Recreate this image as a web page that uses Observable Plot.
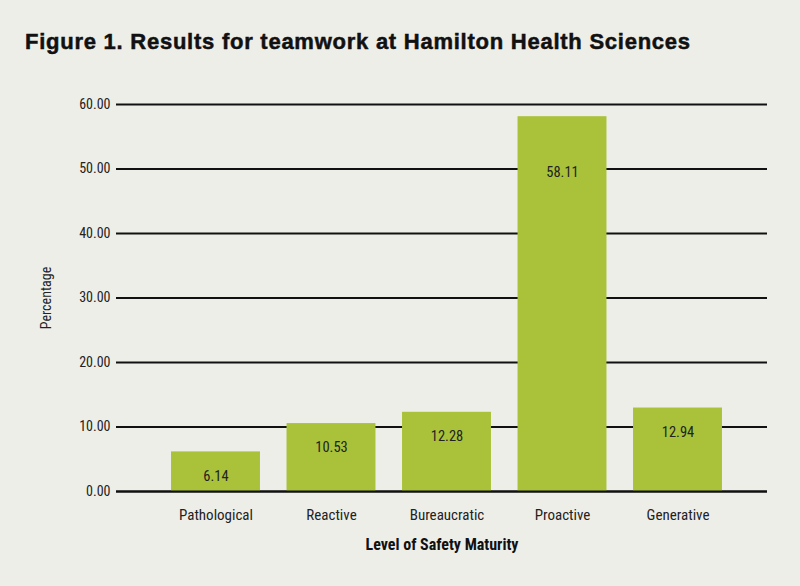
<!DOCTYPE html>
<html>
<head>
<meta charset="utf-8">
<script src="https://cdn.jsdelivr.net/npm/d3@7"></script>
<script src="https://cdn.jsdelivr.net/npm/@observablehq/plot@0.6"></script>
<style>
  html, body { margin: 0; padding: 0; background: #eeeee9; }
  #wrap { width: 800px; height: 586px; background: #eeeee9; position: relative; overflow: hidden; }
  #title { position: absolute; left: 25px; top: 29px; font-family: "Liberation Sans", Arial, sans-serif; font-weight: bold; font-size: 22px; letter-spacing: 0.75px; -webkit-text-stroke: 0.5px #111; color: #111; white-space: nowrap; }
  #chart { position: absolute; left: 0; top: 75px; }
</style>
</head>
<body>
<div id="wrap">
  <div id="title">Figure 1. Results for teamwork at Hamilton Health Sciences</div>
  <div id="chart"></div>
</div>
<script>
const categories = ["Pathological", "Reactive", "Bureaucratic", "Proactive", "Generative"];
const percentages = [6.14, 10.53, 12.28, 58.11, 12.94];
const yTicks = [0, 10, 20, 30, 40, 50, 60];

const data = categories.map((c, i) => ({category: c, value: percentages[i]}));
const font = '"Liberation Sans Narrow", "Arial Narrow", "Roboto Condensed", sans-serif';

const plot = Plot.plot({
  width: 800,
  height: 511,
  marginTop: 29,
  marginBottom: 95,
  marginLeft: 116,
  marginRight: 33,
  style: {background: "#eeeee9", fontFamily: font, fontSize: "14px", color: "#222"},
  x: {domain: categories, range: [157.75, 735.25], paddingInner: 0.23, paddingOuter: 0.115, round: false, label: null},
  y: {domain: [0, 60], label: "Percentage"},
  marks: [
    Plot.ruleY(yTicks, {stroke: "#111", strokeWidth: 2}),
    Plot.barY(data, {x: "category", y: "value", fill: "#a9c23a", inset: 0}),
    Plot.ruleY([0], {stroke: "#111", strokeWidth: 2}),
    Plot.text(data.filter(d => d.value < 50), {x: "category", y: "value", text: d => d.value.toFixed(2), dy: 24, fill: "#222", fontSize: 14.5}),
    Plot.text(data.filter(d => d.value >= 50), {x: "category", y: "value", text: d => d.value.toFixed(2), dy: 56, fill: "#222", fontSize: 14.5}),
    Plot.axisY(yTicks, {tickSize: 0, tickPadding: 6, tickFormat: d => d.toFixed(2), label: "Percentage", labelAnchor: "center", labelArrow: "none", labelOffset: 75, fontSize: 14}),
    Plot.axisX({tickSize: 0, tickPadding: 18, label: null, fontSize: 15}),
    Plot.text(["Level of Safety Maturity"], {frameAnchor: "bottom", dy: 58, fontWeight: "bold", fontSize: 16, fill: "#111"})
  ]
});
document.getElementById("chart").appendChild(plot);
</script>
</body>
</html>
